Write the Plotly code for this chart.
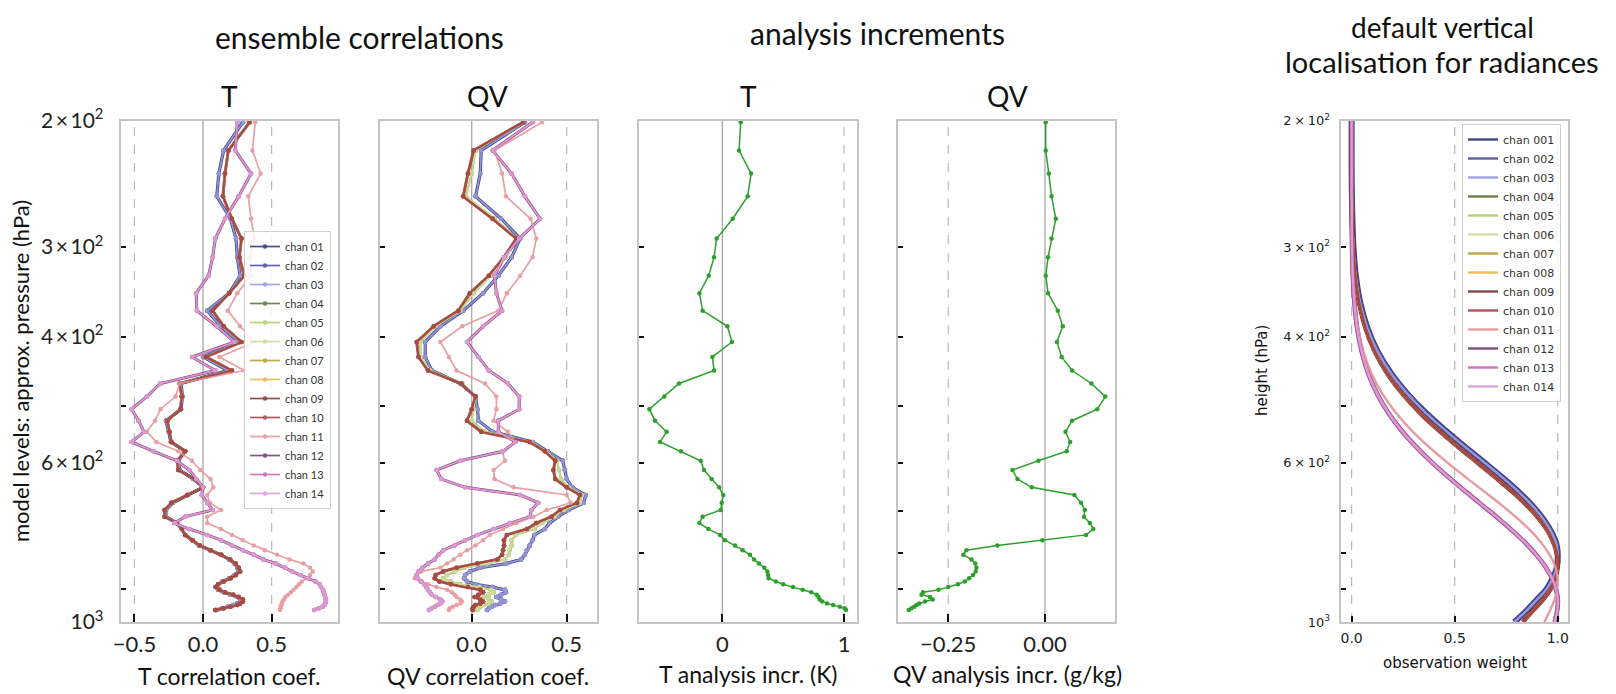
import math
import plotly.graph_objects as go

# ---------------- data ----------------
levels = [201, 220, 237, 255, 274, 292, 310, 329, 348, 368,
          387, 407, 427, 446, 465, 485, 505, 524, 543, 561,
          578, 596, 614, 632, 649, 665, 682, 698, 713, 728,
          742, 756, 769, 782, 794, 806, 818, 829, 840, 850,
          860, 869, 878, 886, 894, 902, 909, 916, 923, 930,
          936, 942, 947, 952, 957, 962]

channels = ["01", "02", "03", "04", "05", "06", "07", "08", "09", "10", "11", "12", "13", "14"]
chan_colors = ["#393b79", "#5254a3", "#9c9ede", "#637939", "#b5cf6b", "#cedb9c", "#bd9e39",
               "#e7ba52", "#843c39", "#ad494a", "#e7969c", "#7b4173", "#ce6dbd", "#de9ed6"]

# T correlation coefficient, per channel group
t_corr_blue = [0.29, 0.15, 0.115, 0.10, 0.20, 0.24, 0.25, 0.27, 0.19, 0.03,
               0.13, 0.26, 0.0, 0.18, -0.16, -0.15, -0.16, -0.27, -0.25, -0.235,
               -0.13, -0.18, -0.17, -0.07, 0.0, -0.11, -0.22, -0.27, -0.27, -0.19,
               -0.155, -0.13, -0.08, -0.03, 0.05, 0.13, 0.19, 0.23, 0.25, 0.26,
               0.23, 0.19, 0.14, 0.11, 0.09, 0.11, 0.15, 0.20, 0.25, 0.27,
               0.27, 0.25, 0.22, 0.18, 0.14, 0.10]
t_corr_red = [0.34, 0.185, 0.16, 0.145, 0.21, 0.28, 0.265, 0.30, 0.19, 0.07,
              0.15, 0.28, 0.02, 0.21, -0.17, -0.155, -0.165, -0.26, -0.245, -0.23,
              -0.13, -0.19, -0.18, -0.06, 0.0, -0.115, -0.23, -0.28, -0.28, -0.19,
              -0.154, -0.13, -0.076, -0.023, 0.055, 0.133, 0.198, 0.237, 0.26, 0.27,
              0.24, 0.20, 0.15, 0.11, 0.095, 0.12, 0.16, 0.22, 0.26, 0.29,
              0.29, 0.27, 0.25, 0.20, 0.15, 0.09]
t_corr_11 = [0.38, 0.36, 0.42, 0.33, 0.35, 0.375, 0.34, 0.35, 0.25, 0.18,
             0.27, 0.375, 0.12, 0.30, -0.17, -0.20, -0.31, -0.35, -0.41, -0.34,
             -0.18, -0.08, -0.02, 0.055, 0.075, 0.03, 0.05, 0.13, 0.03, 0.03,
             0.13, 0.21, 0.29, 0.37, 0.45, 0.54, 0.63, 0.73, 0.78, 0.80,
             0.78, 0.75, 0.72, 0.70, 0.68, 0.66, 0.64, 0.62, 0.60, 0.59,
             0.58, 0.575, 0.57, 0.565, 0.565, 0.56]
t_corr_purp = [0.25, 0.235, 0.35, 0.26, 0.16, 0.09, 0.07, 0.04, -0.05, -0.045,
               0.10, 0.23, -0.08, 0.09, -0.31, -0.41, -0.52, -0.47, -0.43, -0.52,
               -0.36, -0.19, -0.10, -0.05, 0.0, -0.01, 0.03, 0.07, -0.13, -0.21,
               -0.10, 0.03, 0.13, 0.21, 0.29, 0.37, 0.44, 0.53, 0.60, 0.65,
               0.71, 0.77, 0.82, 0.85, 0.86, 0.875, 0.88, 0.885, 0.89, 0.895,
               0.895, 0.89, 0.885, 0.87, 0.845, 0.81]

# QV correlation coefficient, per channel group
qv_corr_blue = [0.28, 0.05, 0.045, 0.02, 0.155, 0.255, 0.21, 0.14, 0.06, -0.045,
                -0.165, -0.245, -0.245, -0.21, -0.06, 0.02, 0.03, 0.035, 0.11, 0.32,
                0.40, 0.48, 0.49, 0.50, 0.53, 0.60, 0.59, 0.51, 0.455, 0.41,
                0.385, 0.33, 0.32, 0.305, 0.29, 0.28, 0.26, 0.18, 0.045, -0.01,
                -0.035, -0.04, -0.025, 0.02, 0.11, 0.175, 0.18, 0.155, 0.13, 0.155,
                0.175, 0.15, 0.125, 0.105, 0.09, 0.08]
qv_corr_green = [0.27, 0.02, 0.0, -0.03, 0.12, 0.24, 0.18, 0.10, 0.01, -0.06,
                 -0.19, -0.27, -0.27, -0.22, -0.05, 0.02, 0.01, 0.0, 0.07, 0.31,
                 0.39, 0.45, 0.46, 0.47, 0.51, 0.58, 0.57, 0.485, 0.435, 0.37,
                 0.33, 0.23, 0.21, 0.21, 0.20, 0.195, 0.175, 0.08, -0.04, -0.09,
                 -0.13, -0.15, -0.11, -0.06, 0.04, 0.10, 0.115, 0.09, 0.065, 0.09,
                 0.105, 0.09, 0.065, 0.045, 0.035, 0.03]
qv_corr_red = [0.27, 0.01, -0.02, -0.045, 0.11, 0.235, 0.17, 0.09, -0.01, -0.07,
               -0.20, -0.29, -0.28, -0.23, -0.055, 0.02, 0.0, -0.025, 0.05, 0.305,
               0.385, 0.44, 0.43, 0.44, 0.50, 0.57, 0.555, 0.465, 0.42, 0.34,
               0.29, 0.185, 0.17, 0.17, 0.165, 0.16, 0.135, 0.03, -0.08, -0.15,
               -0.19, -0.195, -0.17, -0.11, -0.02, 0.045, 0.06, 0.035, 0.015, 0.045,
               0.06, 0.045, 0.02, 0.01, 0.005, 0.005]
qv_corr_11 = [0.37, 0.12, 0.16, 0.18, 0.31, 0.34, 0.32, 0.255, 0.185, 0.14,
              -0.05, -0.165, -0.12, -0.08, 0.07, 0.13, 0.13, 0.115, 0.19, 0.23,
              0.16, 0.175, 0.115, 0.12, 0.22, 0.50, 0.52, 0.395, 0.325, 0.235,
              0.165, 0.095, 0.06, 0.02, -0.025, -0.06, -0.095, -0.13, -0.165, -0.265,
              -0.29, -0.30, -0.27, -0.23, -0.185, -0.13, -0.105, -0.09, -0.08, -0.06,
              -0.052, -0.06, -0.08, -0.10, -0.115, -0.12]
qv_corr_purp = [0.32, 0.11, 0.21, 0.28, 0.36, 0.25, 0.17, 0.12, 0.13, 0.16,
                0.06, -0.025, 0.035, 0.09, 0.19, 0.25, 0.25, 0.14, 0.14, 0.23,
                0.165, -0.06, -0.185, -0.16, -0.035, 0.255, 0.35, 0.315, 0.305, 0.20,
                0.115, 0.03, -0.035, -0.09, -0.15, -0.175, -0.195, -0.23, -0.26, -0.28,
                -0.29, -0.285, -0.265, -0.25, -0.24, -0.23, -0.22, -0.21, -0.19, -0.165,
                -0.155, -0.165, -0.18, -0.195, -0.21, -0.225]

# analysis increments
t_incr = [0.151, 0.137, 0.236, 0.208, 0.085, -0.047, -0.068, -0.112, -0.189, -0.162,
          0.041, 0.079, -0.082, -0.068, -0.356, -0.477, -0.60, -0.553, -0.458, -0.512,
          -0.34, -0.178, -0.151, -0.088, -0.027, 0.008, -0.005, -0.014, -0.162, -0.189,
          -0.115, -0.019, 0.022, 0.104, 0.167, 0.227, 0.26, 0.30, 0.345, 0.37,
          0.375, 0.38, 0.44, 0.50, 0.58, 0.66, 0.73, 0.775, 0.79, 0.80,
          0.82, 0.86, 0.91, 0.965, 1.005, 1.016]
qv_incr = [0.002, 0.002, 0.010, 0.017, 0.028, 0.017, 0.008, 0.002, 0.008, 0.033,
           0.046, 0.031, 0.043, 0.070, 0.120, 0.156, 0.135, 0.070, 0.053, 0.065,
           0.056, -0.017, -0.084, -0.071, -0.034, 0.076, 0.093, 0.103, 0.101, 0.116,
           0.125, 0.106, -0.007, -0.123, -0.203, -0.211, -0.19, -0.18, -0.177, -0.179,
           -0.186, -0.196, -0.207, -0.225, -0.25, -0.275, -0.315, -0.319, -0.297, -0.29,
           -0.31, -0.325, -0.332, -0.338, -0.345, -0.352]

# default vertical localisation (observation weight)
loc_p = [200, 250, 300, 330, 360, 390, 420, 450, 480, 510, 540, 570, 600,
         630, 660, 690, 720, 750, 780, 810, 840, 870, 900, 930, 960, 1000]
loc_blue = [0.0, 0.001, 0.009, 0.021, 0.043, 0.078, 0.127, 0.191, 0.269, 0.357, 0.453, 0.55, 0.646,
            0.735, 0.814, 0.88, 0.932, 0.97, 0.994, 1.0, 0.995, 0.975, 0.945, 0.90, 0.855, 0.79]
loc_red = [0.0, 0.001, 0.008, 0.018, 0.037, 0.068, 0.113, 0.172, 0.245, 0.329, 0.421, 0.517, 0.612,
           0.702, 0.784, 0.855, 0.912, 0.955, 0.983, 0.998, 0.999, 0.988, 0.965, 0.93, 0.885, 0.83]
loc_11 = [0.0, 0.0, 0.002, 0.007, 0.016, 0.032, 0.058, 0.096, 0.148, 0.213, 0.289, 0.375, 0.466,
          0.559, 0.65, 0.735, 0.811, 0.876, 0.927, 0.965, 0.989, 0.999, 0.997, 0.985, 0.965, 0.935]
loc_purp = [0.0, 0.0, 0.002, 0.006, 0.014, 0.027, 0.049, 0.080, 0.123, 0.176, 0.24, 0.313, 0.392,
            0.475, 0.559, 0.641, 0.719, 0.789, 0.851, 0.902, 0.943, 0.973, 0.991, 1.0, 0.998, 0.985]

y_tickvals = [200, 300, 400, 600, 1000]
y_ticktext = ["2\u2009×\u200910<sup>2</sup>", "3\u2009×\u200910<sup>2</sup>", "4\u2009×\u200910<sup>2</sup>",
              "6\u2009×\u200910<sup>2</sup>", "10<sup>3</sup>"]
y_minor_tickvals = [500, 700, 800, 900]

# channel -> group
t_groups = [t_corr_blue] * 3 + [t_corr_red] * 7 + [t_corr_11] + [t_corr_purp] * 3
qv_groups = [qv_corr_blue] * 3 + [qv_corr_green] * 3 + [qv_corr_red] * 4 + [qv_corr_11] + [qv_corr_purp] * 3
loc_groups = [loc_blue] * 3 + [loc_red] * 7 + [loc_11] + [loc_purp] * 3

# wide under-strokes (chan index, width) so that overlapping channels read as a band
corr_band = [(0, 3.2), (8, 3.0), (11, 3.0)]
loc_band = [(0, 6.0), (1, 4.4), (8, 4.6), (11, 4.6), (12, 3.6)]

# ---------------- layout helpers ----------------
OFF = 8                      # page offset of the plot div inside the browser window
W, H = 1616 - OFF, 694 - OFF
MAIN_FONT = "Lato"
MPL_FONT = "DejaVu Sans"


def px_x(v):
    return (v - OFF) / W


def px_y(v):
    return (H - (v - OFF)) / H


ydom = [px_y(622), px_y(120.7)]
xdoms = [(120.7, 337.5), (380, 596.7), (639, 856.7), (898.3, 1115), (1340.7, 1568.3)]

fig = go.Figure()

# under-strokes first
for idx, wdt in corr_band:
    fig.add_trace(go.Scatter(x=t_groups[idx], y=levels, mode="lines", hoverinfo="skip",
                             line=dict(color=chan_colors[idx], width=wdt), opacity=0.9,
                             xaxis="x", yaxis="y", showlegend=False))
    fig.add_trace(go.Scatter(x=qv_groups[idx], y=levels, mode="lines", hoverinfo="skip",
                             line=dict(color=chan_colors[idx], width=wdt), opacity=0.9,
                             xaxis="x2", yaxis="y2", showlegend=False))
for idx, wdt in loc_band:
    fig.add_trace(go.Scatter(x=loc_groups[idx], y=loc_p, mode="lines", hoverinfo="skip",
                             line=dict(color=chan_colors[idx], width=wdt, shape="spline"), opacity=0.95,
                             xaxis="x5", yaxis="y5", showlegend=False))

for i, ch in enumerate(channels):
    fig.add_trace(go.Scatter(
        x=t_groups[i], y=levels, mode="lines+markers", name="chan " + ch,
        line=dict(color=chan_colors[i], width=1.7), marker=dict(size=4.5, color=chan_colors[i]),
        opacity=0.9, xaxis="x", yaxis="y", legend="legend", showlegend=True))
for i, ch in enumerate(channels):
    fig.add_trace(go.Scatter(
        x=qv_groups[i], y=levels, mode="lines+markers", name="chan " + ch,
        line=dict(color=chan_colors[i], width=1.7), marker=dict(size=4.5, color=chan_colors[i]),
        opacity=0.9, xaxis="x2", yaxis="y2", showlegend=False))

fig.add_trace(go.Scatter(x=t_incr, y=levels, mode="lines+markers", name="T incr",
                         line=dict(color="#2ca02c", width=1.5), marker=dict(size=4.5, color="#2ca02c"),
                         xaxis="x3", yaxis="y3", showlegend=False))
fig.add_trace(go.Scatter(x=qv_incr, y=levels, mode="lines+markers", name="QV incr",
                         line=dict(color="#2ca02c", width=1.5), marker=dict(size=4.5, color="#2ca02c"),
                         xaxis="x4", yaxis="y4", showlegend=False))

for i, ch in enumerate(channels):
    fig.add_trace(go.Scatter(
        x=loc_groups[i], y=loc_p, mode="lines", name="chan 0" + ch,
        line=dict(color=chan_colors[i], width=2.4, shape="spline"),
        opacity=0.95, xaxis="x5", yaxis="y5", legend="legend2", showlegend=True))

x_specs = [
    dict(range=[-0.60, 0.98], tickvals=[-0.5, 0, 0.5], ticktext=["\u22120.5", "0.0", "0.5"]),
    dict(range=[-0.483, 0.658], tickvals=[0, 0.5], ticktext=["0.0", "0.5"]),
    dict(range=[-0.685, 1.104], tickvals=[0, 1], ticktext=["0", "1"]),
    dict(range=[-0.379, 0.181], tickvals=[-0.25, 0], ticktext=["\u22120.25", "0.00"]),
    dict(range=[-0.053, 1.051], tickvals=[0, 0.5, 1.0], ticktext=["0.0", "0.5", "1.0"]),
]

layout = dict(width=W, height=H, margin=dict(l=0, r=0, t=0, b=0, pad=0, autoexpand=False),
              paper_bgcolor="white", plot_bgcolor="white", showlegend=True)

for k in range(5):
    sfx = "" if k == 0 else str(k + 1)
    is_mpl = (k == 4)
    tfont = dict(family=MPL_FONT if is_mpl else MAIN_FONT, size=14 if is_mpl else 22, color="#222")
    xa = dict(domain=[px_x(xdoms[k][0]), px_x(xdoms[k][1])], anchor="y" + sfx,
              ticks="inside", ticklen=8 if not is_mpl else 6, tickwidth=2, tickcolor="#111",
              showline=True, mirror=True, linecolor="#c4c4c4", linewidth=2.2,
              showgrid=False, zeroline=False, tickfont=tfont, automargin=False,
              ticklabelstandoff=1 if not is_mpl else 2, fixedrange=True)
    xa.update(x_specs[k])
    ya = dict(domain=ydom, anchor="x" + sfx, type="log",
              range=[math.log10(1000), math.log10(200)], autorange=False,
              tickvals=y_tickvals, ticktext=y_ticktext,
              ticks="inside", ticklen=5, tickwidth=1.5, tickcolor="#111",
              minor=dict(tickvals=y_minor_tickvals, ticks="inside", ticklen=5, tickwidth=1.5,
                         tickcolor="#111", showgrid=False),
              showline=True, mirror=True, linecolor="#c4c4c4", linewidth=2.2,
              showgrid=False, zeroline=False, automargin=False,
              showticklabels=(k in (0, 4)),
              tickfont=dict(family=MPL_FONT if is_mpl else MAIN_FONT, size=13 if is_mpl else 21, color="#222"),
              ticklabelstandoff=11 if not is_mpl else 6, fixedrange=True)
    layout["xaxis" + sfx] = xa
    layout["yaxis" + sfx] = ya

layout["legend"] = dict(x=px_x(331), xanchor="right", y=px_y(370), yanchor="middle",
                        bgcolor="rgba(255,255,255,0.85)", bordercolor="#cfcfcf", borderwidth=1,
                        font=dict(family=MAIN_FONT, size=11, color="#333"), tracegroupgap=0)
layout["legend2"] = dict(x=px_x(1561), xanchor="right", y=px_y(124), yanchor="top",
                         bgcolor="rgba(255,255,255,0.85)", bordercolor="#cfcfcf", borderwidth=1,
                         font=dict(family=MPL_FONT, size=11, color="#333"), tracegroupgap=0)
fig.update_layout(**layout)

# reference lines
solid = dict(color="#a8a8a8", width=1.3)
dashed = dict(color="#b8b8b8", width=1.2, dash="dash")
ref_lines = [("x", 0, solid), ("x", -0.5, dashed), ("x", 0.5, dashed),
             ("x2", 0, solid), ("x2", 0.5, dashed),
             ("x3", 0, solid), ("x3", 1, dashed),
             ("x4", 0, solid), ("x4", -0.25, dashed),
             ("x5", 0, dashed), ("x5", 0.5, dashed), ("x5", 1.0, dashed)]
for xr, xv, ln in ref_lines:
    yr = "y" + xr[1:] + " domain" if len(xr) > 1 else "y domain"
    fig.add_shape(type="line", xref=xr, yref=yr, x0=xv, x1=xv, y0=0, y1=1, line=ln, layer="below")


# texts
def ann(text, x, y, size, family=MAIN_FONT, angle=0):
    fig.add_annotation(text=text, x=px_x(x), y=px_y(y), xref="paper", yref="paper",
                       showarrow=False, xanchor="center", yanchor="middle", textangle=angle,
                       borderpad=0, font=dict(family=family, size=size, color="#111"))


ann("ensemble correlations", 359, 37, 30)
ann("analysis increments", 877, 33, 30)
ann("default vertical", 1442, 27, 28)
ann("localisation for radiances", 1442, 61, 29)
for label, xc in [("T", 229), ("QV", 488), ("T", 748), ("QV", 1007)]:
    ann(label, xc, 96, 28)
ann("T correlation coef.", 229, 676, 23)
ann("QV correlation coef.", 488, 676, 23)
ann("T analysis incr. (K)", 748, 674, 23)
ann("QV analysis incr. (g/kg)", 1007, 674, 23)
ann("model levels: approx. pressure (hPa)", 20, 371, 22, angle=-90)
ann("observation weight", 1454.5, 663, 15, family=MPL_FONT)
ann("height (hPa)", 1262, 371, 15, family=MPL_FONT, angle=-90)

fig.write_html("out.html")
